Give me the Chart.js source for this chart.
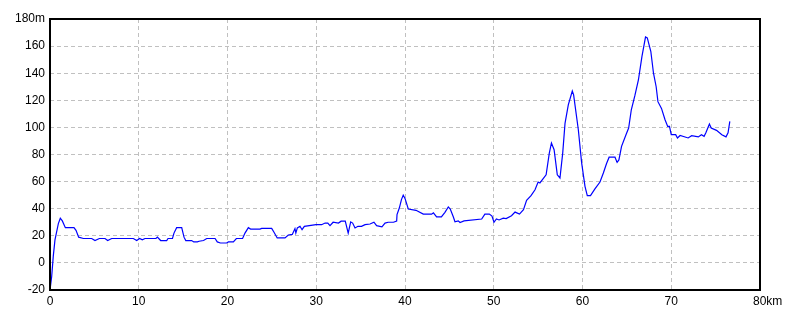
<!DOCTYPE html>
<html>
<head>
<meta charset="utf-8">
<script src="https://cdn.jsdelivr.net/npm/chart.js@4/dist/chart.umd.min.js"></script>
<style>
  html, body { margin: 0; padding: 0; background: #fff; }
  #wrap { width: 800px; height: 320px; position: relative; }
</style>
</head>
<body>
<div id="wrap"><canvas id="profile"></canvas></div>
<script>
// distance along the route (km) and elevation (m)
const distKm = [
    0, 0.19, 0.37, 0.56, 0.94, 1.16, 1.39, 1.73, 2.7, 2.93, 3.23, 3.76, 4.7, 5.07, 5.56, 6.2, 6.5, 6.95,
    9.39, 9.77, 10.1, 10.4, 10.7, 11.94, 12.1, 12.47, 13.15, 13.3, 13.8, 13.97, 14.27, 14.84, 15.1, 15.3,
    15.96, 16.2, 16.6, 16.8, 17.3, 17.66, 18.6, 18.85, 19.2, 19.9, 20.1, 20.66, 21.0, 21.7, 21.97, 22.35,
    22.6, 23.66, 23.85, 24.98, 25.24, 25.6, 26.48, 26.85, 27.3, 27.6, 27.7, 27.87, 28.17, 28.4, 28.66,
    29.97, 30.6, 31.0, 31.3, 31.55, 31.9, 32.5, 32.8, 33.27, 33.6, 33.88, 34.1, 34.37, 34.7, 35.1, 35.5,
    36.06, 36.5, 36.8, 37.4, 37.75, 38.1, 38.7, 39.06, 39.1, 39.36, 39.6, 39.8, 40.0, 40.37, 41.24, 42.06,
    43.0, 43.2, 43.56, 44.1, 44.5, 44.88, 45.1, 45.44, 45.63, 46.0, 46.2, 46.65, 48.64, 49.0, 49.5, 49.8,
    50.03, 50.3, 50.6, 51.07, 51.4, 52.0, 52.4, 52.9, 53.35, 53.7, 54.2, 54.65, 55.0, 55.2, 55.9, 56.26,
    56.5, 56.8, 57.16, 57.46, 57.77, 58.03, 58.4, 58.85, 59.0, 59.53, 59.9, 60.28, 60.54, 60.9, 61.4,
    61.97, 62.35, 62.7, 63.0, 63.66, 63.9, 64.1, 64.4, 64.9, 65.2, 65.5, 65.9, 66.3, 66.7, 67.1, 67.3,
    67.7, 68.0, 68.3, 68.5, 68.9, 69.3, 69.6, 69.8, 70.0, 70.5, 70.7, 71.0, 71.9, 72.3, 73.05, 73.4,
    73.7, 73.9, 74.3, 74.5, 75.1, 75.7, 76.17, 76.4, 76.6
]
const elevM = [
    -20, -10, 5, 17, 29, 33, 31, 26, 26, 24, 19, 18, 18, 16.5, 18, 18, 16.5, 18,
    18, 16.5, 18, 17, 18, 18, 19, 16.5, 16.5, 18, 18, 22, 26, 26, 19, 16.5,
    16.5, 15.5, 15.5, 16, 16.5, 18, 18, 15.5, 14.7, 14.7, 15.5, 15.5, 18, 18, 22, 26,
    25, 25, 25.5, 25.5, 22.6, 18.4, 18.4, 20.6, 21, 25.3, 22, 25.8, 27, 24.5, 27,
    28.2, 28.2, 29.4, 29.4, 27.5, 30, 29.4, 30.8, 30.8, 22, 30.3, 29.4, 25.8, 27, 27, 28.2,
    28.7, 30, 27.5, 26.6, 29.4, 30, 30, 30.8, 35.6, 40.5, 46.7, 50, 47.6, 39.8, 38.8, 36,
    36, 37, 34, 34, 37.3, 41.3, 39.8, 34, 30.4, 31, 29.8, 31, 32.4, 36, 36, 34.6,
    30, 32.4, 31.7, 33, 32.7, 34.8, 37.5, 36, 39.3, 46.2, 49.6, 54, 59.7, 59, 65, 81,
    88.5, 83.5, 65, 62.7, 81, 103, 116.7, 126.8, 124, 98.3, 74, 56.5, 49.6, 49.6, 54.6,
    59.7, 66.3, 73.2, 78, 78, 74.2, 76, 86, 94.6, 99.5, 113, 123.4, 135, 152.4, 166.7, 166,
    156, 140, 130, 119, 114, 105.7, 100.7, 100.7, 94.6, 94.6, 92.2, 94, 92.2, 93.9, 93, 94.6,
    93.4, 96, 102.5, 99.5, 97.8, 94.6, 93, 96, 104.4
]

const xMin = 0, xMax = 80, xStep = 5
const yMin = -20, yMax = 180, yStep = 20

// рамка вокруг области графика
const frame = {
    id: 'frame',
    afterDraw(chart) {
        const a = chart.chartArea
        const c = chart.ctx
        c.save()
        c.strokeStyle = '#000'
        c.lineWidth = 2
        c.strokeRect(a.left, a.top, a.right - a.left, a.bottom - a.top)
        c.restore()
    }
}

const grid = {
    color: '#c0c0c0',
    lineWidth: 1,
    drawTicks: false
}

new Chart(document.querySelector('#profile'), {
    type: 'line',
    data: {
        datasets: [{
            data: distKm.map((d, i) => ({ x: d, y: elevM[i] })),
            borderColor: '#0000ff',
            borderWidth: 1.2,
            pointRadius: 0,
            tension: 0,
            fill: false
        }]
    },
    options: {
        responsive: true,
        maintainAspectRatio: false,
        animation: false,
        layout: { padding: { top: 19, right: 40, left: 0, bottom: 0 } },
        plugins: {
            legend: { display: false },
            tooltip: { enabled: false }
        },
        scales: {
            x: {
                type: 'linear',
                min: xMin, max: xMax,
                afterFit(s) { s.height = 30 },
                border: { display: false, dash: [4, 3] },
                grid: grid,
                ticks: {
                    stepSize: xStep,
                    padding: 4,
                    maxRotation: 0,
                    color: '#000',
                    font: { family: 'Liberation Sans', size: 12 },
                    callback: v => v === xMax ? '\u2002\u2002 ' + v + 'km' : v
                }
            },
            y: {
                min: yMin, max: yMax,
                afterFit(s) { s.width = 50 },
                border: { display: false, dash: [4, 3] },
                grid: grid,
                ticks: {
                    stepSize: yStep,
                    padding: 5,
                    color: '#000',
                    font: { family: 'Liberation Sans', size: 12 },
                    callback: v => v === yMax ? v + 'm' : v
                }
            }
        }
    },
    plugins: [frame]
})
</script>
</body>
</html>
